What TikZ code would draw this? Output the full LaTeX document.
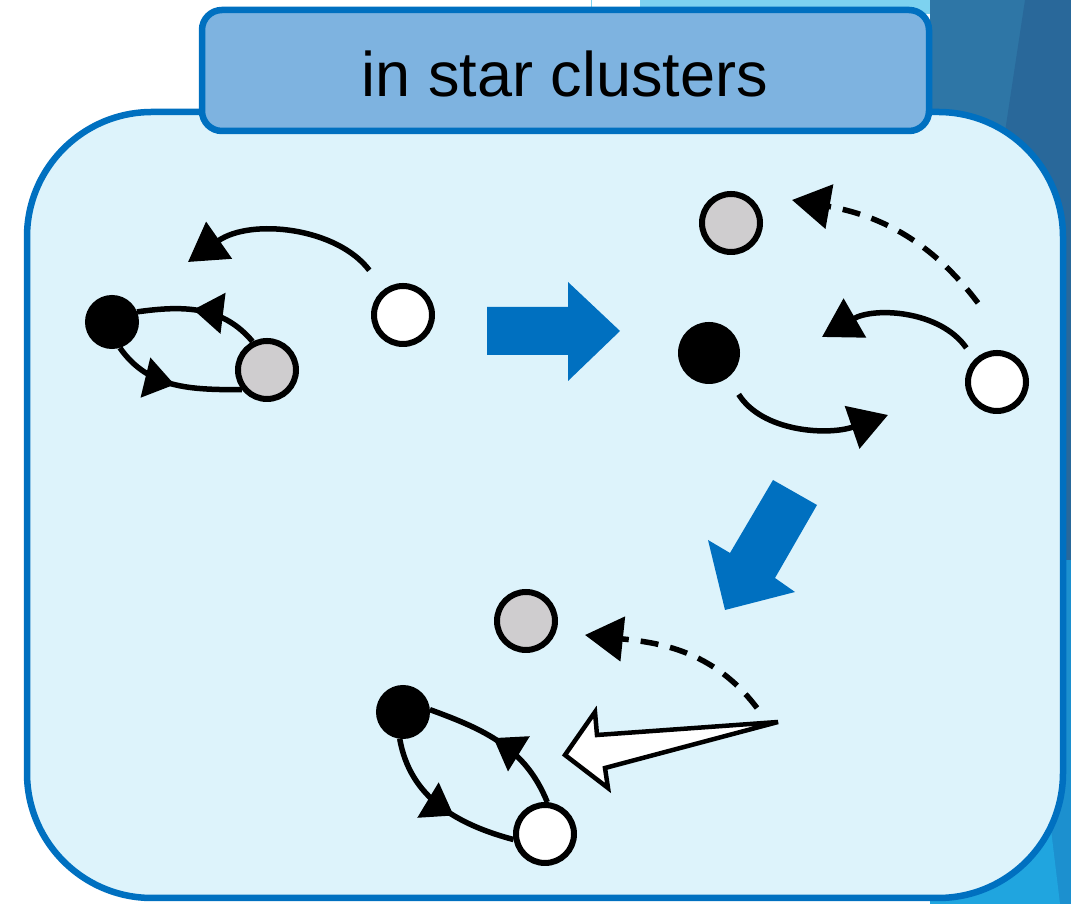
\documentclass[tikz,border=0pt]{standalone}
\usepackage{fontspec}
\newfontfamily\headfont{Liberation Sans}
\usetikzlibrary{arrows.meta,decorations.markings}
\definecolor{frame}{HTML}{0070C0}
\definecolor{pool}{HTML}{DDF3FB}
\definecolor{banner}{HTML}{7EB3E0}
\definecolor{starash}{HTML}{CFCDCF}
\definecolor{skyband}{HTML}{7DD2F0}
\definecolor{slate}{HTML}{2E76A6}
\definecolor{slatedeep}{HTML}{29689A}
\definecolor{ocean}{HTML}{1C90CF}
\definecolor{shallow}{HTML}{20A5DF}

\begin{document}
\begin{tikzpicture}[
  x=1pt, y=1pt,
  body/.style={circle, draw=black, line width=6pt, inner sep=0pt, minimum size=58pt},
  held/.style={body, fill=black, minimum size=48pt},
  lost/.style={body, fill=starash},
  loner/.style={body, fill=white},
  orbit/.style={line width=5.5pt, -{Triangle[length=38pt, width=44pt]}},
  ghost/.style={orbit, dash pattern=on 18pt off 12pt},
  loop/.style={line width=5.5pt, postaction={decorate}, decoration={markings,
    mark=at position #1 with {\arrow{Triangle[length=30pt, width=40pt]}}}},
  loop/.default=.5,
  push/.style={fill=frame}
]
  \useasboundingbox (0,0) rectangle (1071,904);
  \fill[white] (0,0) rectangle (1071,904);
  \fill[skyband] (640,890) rectangle (930,904);
  \draw[skyband, line width=1pt] (591,892) -- (591,904);
  \fill[slate] (930,344) rectangle (1071,904);
  \fill[slatedeep] (1025,904) -- (1071,904) -- (1071,344) -- (940,344) -- cycle;
  \fill[ocean] (930,0) rectangle (1071,344);
  \fill[shallow] (930,124) -- (1045,124) -- (1060,0) -- (930,0) -- cycle;

  \draw[frame, fill=pool, line width=6.5pt, rounded corners=125pt] (27,6) rectangle (1063,792);
  \draw[frame, fill=banner, line width=6.5pt, rounded corners=20pt] (202,773) rectangle (929,894);
  \node[font=\headfont\fontsize{63}{70}\selectfont] (title) at (565,830) {in star clusters};

  \node[held] (b1) at (112,582) {};
  \node[lost] (g1) at (267,534) {};
  \node[loner] (w1) at (403,589) {};
  \coordinate (w1flight) at (188,642);
  \draw[orbit, shorten <=24pt] (w1.127) to[out=127, in=35] (w1flight);
  \draw[loop=.55] (g1.117) to[out=130, in=8] (b1.22);
  \draw[loop=.5] (b1.-73) to[out=-55, in=180] (g1.218);

  \fill[push] (487,597) -- (568,597) -- (568,622) -- (620,573) -- (568,523)
    -- (568,549) -- (487,549) -- cycle;

  \node[held, minimum size=56pt] (b2) at (709,551) {};
  \node[lost] (g2) at (731,681) {};
  \node[loner] (w2) at (997,522) {};
  \coordinate (w2trail) at (978,601);
  \coordinate (w2flee) at (792,704);
  \coordinate (w2swap) at (822,567);
  \coordinate (b2swing) at (888,489);
  \draw[ghost] (w2trail) to[out=127, in=-10] (w2flee);
  \draw[orbit, shorten <=14pt] (w2.135) to[out=125, in=30] (w2swap);
  \draw[orbit, shorten <=20pt] (b2.-52) to[out=-58, in=199] (b2swing);

  \fill[push] (773,424) -- (817,399) -- (775,326) -- (795,312) -- (725,294)
    -- (708,364) -- (730,351) -- cycle;

  \node[held] (b3) at (403,192) {};
  \node[lost] (g3) at (526,283) {};
  \node[loner] (w3) at (545,70) {};
  \coordinate (w3trail) at (757,196);
  \coordinate (w3flee) at (585,269);
  \draw[ghost] (w3trail) to[out=127, in=-6] (w3flee);
  \draw[loop=.6] (b3.-97) to[out=-80, in=165] (w3.190);
  \draw[loop=.55] (w3.86) to[out=112, in=-20] (b3.5);
  \draw[fill=white, line width=4.5pt, line join=miter] (778,182) -- (597,169) -- (595,192)
    -- (565,149) -- (608,116) -- (605,136) -- cycle;
\end{tikzpicture}
\end{document}
